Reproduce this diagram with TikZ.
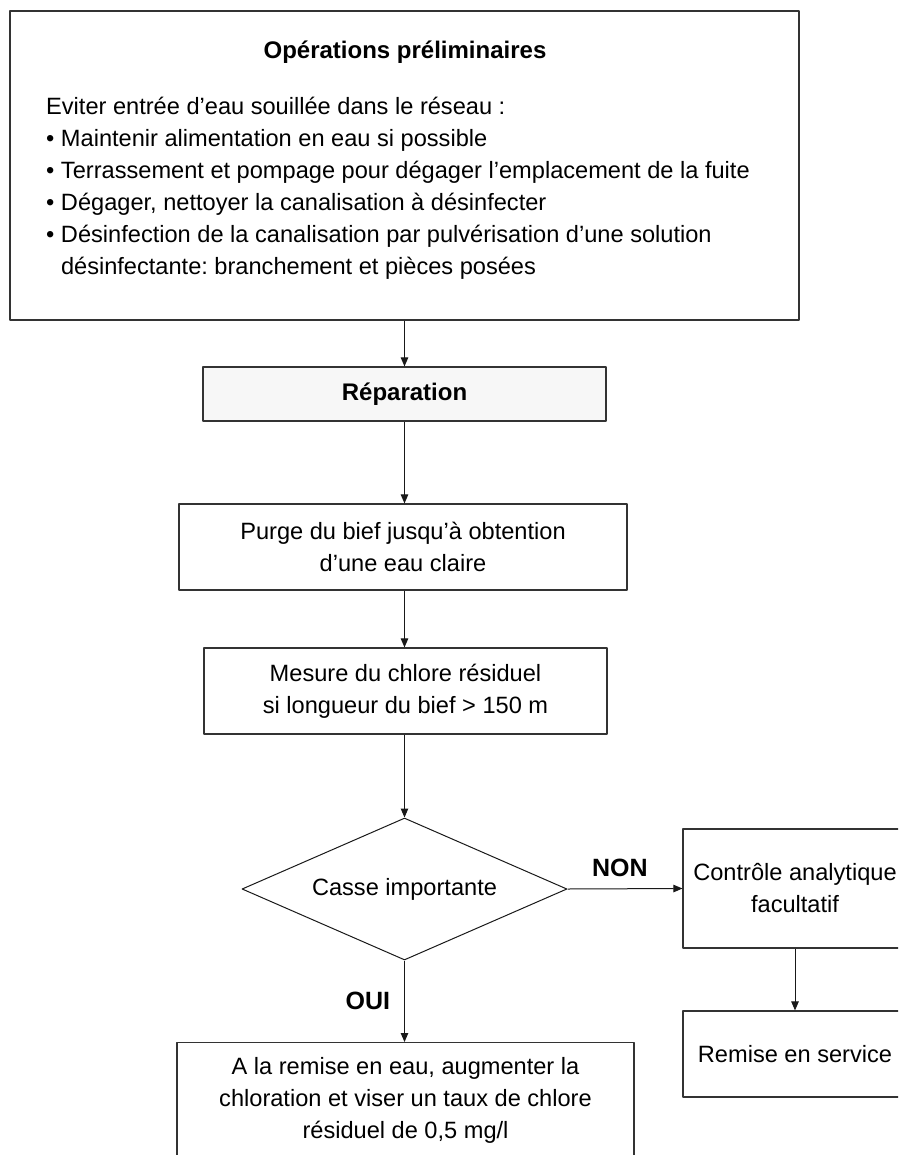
\documentclass[tikz,border=0pt]{standalone}
\usepackage{fontspec}
\setmainfont{Liberation Sans}
\usetikzlibrary{shapes.geometric,arrows.meta}
\frenchspacing

\newcommand{\corps}{\fontsize{23.6}{32}\selectfont}
\newcommand{\titre}{\fontsize{24}{30}\selectfont\bfseries}
\newcommand{\etiq}{\fontsize{25}{30}\selectfont\bfseries}

\tikzset{
  boite/.style={draw=black!80,line width=1.2pt,inner sep=0pt,align=center,font=\corps},
  losange/.style={diamond,draw=black!90,line width=1pt,inner sep=0pt,aspect=2.3,font=\corps},
  fleche/.style={->,draw=black!90,line width=1pt}
}

\begin{document}
\begin{tikzpicture}[x=1pt,y=-1pt,line join=round,>={Triangle[length=9pt,width=7.5pt]},font=\corps]

% Cadre
\useasboundingbox (0,0) rectangle (898,1155);
\clip (0,0) rectangle (898,1155);

% Opérations préliminaires
\node[boite,minimum width=789pt,minimum height=309pt] (prelim) at (404.5,165.5) {};
\node[font=\titre] (titre) at (405,52) {Opérations préliminaires};
\node[anchor=base west,align=left,inner sep=0pt] (liste) at (46,275)
  {Eviter entrée d’eau souillée dans le réseau :\\
   \textbullet\ Maintenir alimentation en eau si possible\\
   \textbullet\ Terrassement et pompage pour dégager l’emplacement de la fuite\\
   \textbullet\ Dégager, nettoyer la canalisation à désinfecter\\
   \textbullet\ Désinfection de la canalisation par pulvérisation d’une solution\\
   \phantom{\textbullet\ }désinfectante: branchement et pièces posées};

% Étapes
\node[boite,fill=black!3,font=\titre,minimum width=403pt,minimum height=54pt] (rep) at (404.5,394) {Réparation};
\node[boite,minimum width=448pt,minimum height=86pt] (purge) at (403,547) {Purge du bief jusqu’à obtention\\d’une eau claire};
\node[boite,minimum width=403pt,minimum height=86pt] (mesure) at (405.5,691) {Mesure du chlore résiduel\\si longueur du bief > 150 m};
\node[losange,minimum width=325pt,minimum height=142pt] (casse) at (404.5,889) {Casse importante};
\node[boite,anchor=north,minimum width=457pt,minimum height=116pt] (chlore) at (405.5,1042) {A la remise en eau, augmenter la\\chloration et viser un taux de chlore\\résiduel de 0,5 mg/l};
\node[boite,minimum width=224pt,minimum height=119pt] (ctrl) at (795,888.5) {Contrôle analytique\\facultatif};
\node[boite,minimum width=224pt,minimum height=86pt] (remise) at (795,1054) {Remise en service};

% Flèches
\draw[fleche] (prelim.south) -- (rep.north);
\draw[fleche] (rep.south) -- (rep.south |- purge.north);
\draw[fleche] (rep.south |- purge.south) -- (rep.south |- mesure.north);
\draw[fleche] (casse.north |- mesure.south) -- (casse.north);
\draw[fleche] (casse.south) -- (casse.south |- chlore.north)
  node[midway,left=14pt,inner sep=0pt,font=\etiq] (oui) {OUI};
\draw[fleche] (casse.east) -- (ctrl.west)
  node[midway,above=12pt,inner sep=0pt,font=\etiq,xshift=-5pt] (non) {NON};
\draw[fleche] (ctrl) -- (remise);

\end{tikzpicture}
\end{document}
